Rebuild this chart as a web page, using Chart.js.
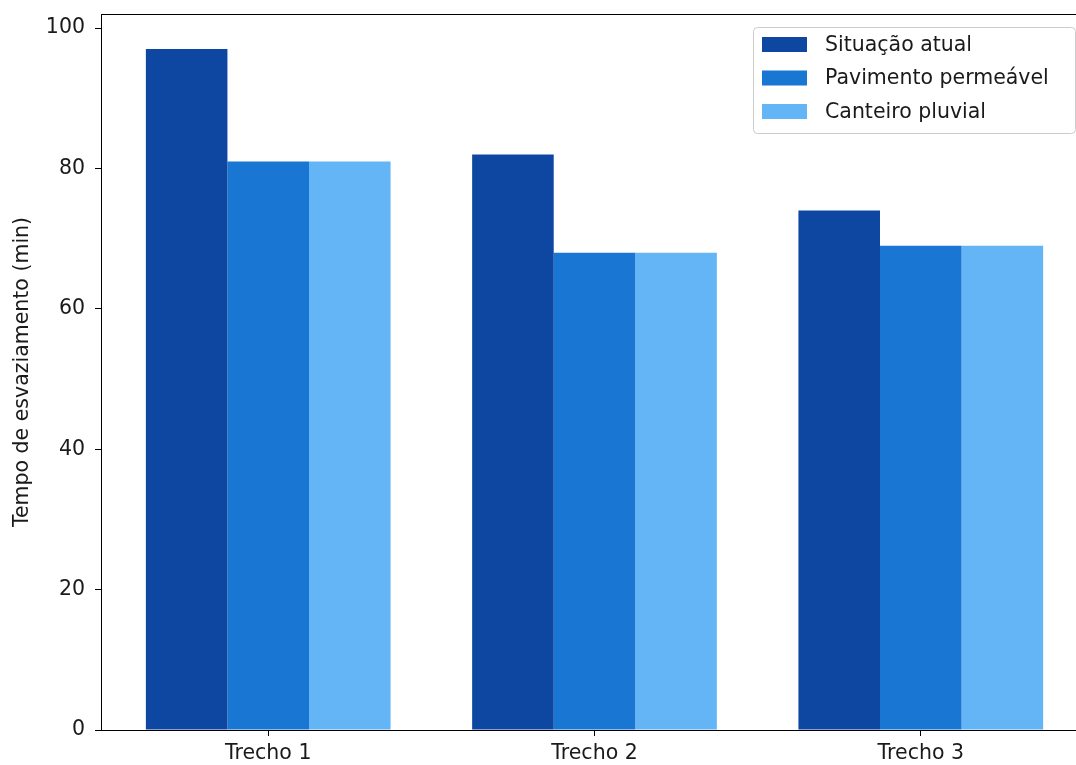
<!DOCTYPE html>
<html>
<head>
<meta charset="utf-8">
<script src="https://cdn.jsdelivr.net/npm/chart.js@4"></script>
<style>
  html, body { margin: 0; padding: 0; background: #fff; overflow: hidden; }
</style>
</head>
<body>
<canvas id="grafico" width="1090" height="765"></canvas>
<script>
    // Dados
    const categorias = ['Trecho 1', 'Trecho 2', 'Trecho 3'];
    const situacaoAtual = [97, 82, 74];
    const pavimentoPermeavel = [81, 68, 69];
    const canteiroPluvial = [81, 68, 69];
    const rotulosY = [0, 20, 40, 60, 80, 100];

    const fonte = 'DejaVu Sans';
    const tamFonte = 20.5;

    // monta pontos {x, y} para o eixo x numérico (permite a margem do matplotlib)
    const pontos = (valores) => valores.map((v, i) => ({ x: i, y: v }));

    // Moldura do eixo + legenda com caixa (estilo matplotlib)
    const molduraLegenda = {
        id: 'molduraLegenda',
        afterDraw(chart) {
            const ctx = chart.ctx;
            const a = chart.chartArea;
            ctx.save();
            ctx.strokeStyle = '#000';
            ctx.lineWidth = 1;
            ctx.strokeRect(a.left + 0.5, a.top + 0.5, a.right - a.left, a.bottom - a.top);

            // caixa da legenda
            const x = 753, y = 27, w = 322, h = 106, r = 4;
            ctx.beginPath();
            ctx.roundRect(x + 0.5, y + 0.5, w, h, r);
            ctx.fillStyle = 'rgba(255,255,255,0.8)';
            ctx.fill();
            ctx.strokeStyle = '#cccccc';
            ctx.stroke();

            ctx.font = tamFonte + 'px "' + fonte + '"';
            ctx.textBaseline = 'middle';
            chart.data.datasets.forEach((ds, i) => {
                const cy = 44.5 + i * 33.5;
                ctx.fillStyle = ds.backgroundColor;
                ctx.fillRect(762, cy - 7.5, 45, 15);
                ctx.fillStyle = '#1a1a1a';
                ctx.fillText(ds.label, 825, cy + 1);
            });
            ctx.restore();
        }
    };

    const ctx = document.getElementById('grafico').getContext('2d');
    new Chart(ctx, {
        type: 'bar',
        data: {
            datasets: [
                { label: 'Situação atual', data: pontos(situacaoAtual), backgroundColor: '#0d47a1' },
                { label: 'Pavimento permeável', data: pontos(pavimentoPermeavel), backgroundColor: '#1976d2' },
                { label: 'Canteiro pluvial', data: pontos(canteiroPluvial), backgroundColor: '#64b5f6' }
            ]
        },
        options: {
            responsive: false,
            animation: false,
            layout: { padding: { left: 0, top: 0, right: 2, bottom: 0 } },
            datasets: {
                bar: { categoryPercentage: 0.75, barPercentage: 1.0, borderWidth: 0 }
            },
            plugins: {
                legend: { display: false },
                tooltip: { enabled: false }
            },
            scales: {
                x: {
                    type: 'linear',
                    min: -0.5125,
                    max: 2.5125,
                    offset: false,
                    afterBuildTicks(scale) { scale.ticks = categorias.map((c, i) => ({ value: i })); },
                    grid: { drawOnChartArea: false, drawTicks: true, tickLength: 6, color: '#000', offset: false },
                    border: { display: true, color: '#000', width: 1 },
                    ticks: {
                        color: '#1a1a1a',
                        font: { family: fonte, size: tamFonte },
                        padding: 5,
                        callback: (v) => categorias[v]
                    },
                    afterFit(scale) {
                        scale.height = 35;
                        scale.paddingLeft = 0;
                        scale.paddingRight = 0;
                    }
                },
                y: {
                    min: 0,
                    max: 102,
                    afterBuildTicks(scale) { scale.ticks = rotulosY.map(v => ({ value: v })); },
                    grid: { drawOnChartArea: false, drawTicks: true, tickLength: 6, color: '#000' },
                    border: { display: true, color: '#000', width: 1 },
                    ticks: { color: '#1a1a1a', font: { family: fonte, size: tamFonte }, padding: 10 },
                    title: {
                        display: true,
                        text: 'Tempo de esvaziamento (min)',
                        color: '#1a1a1a',
                        font: { family: fonte, size: tamFonte },
                        padding: { top: 10, bottom: 0 }
                    },
                    afterFit(scale) {
                        scale.width = 101;
                        scale.paddingTop = 14;
                        scale.paddingBottom = 0;
                    }
                }
            }
        },
        plugins: [molduraLegenda]
    });
</script>
</body>
</html>
